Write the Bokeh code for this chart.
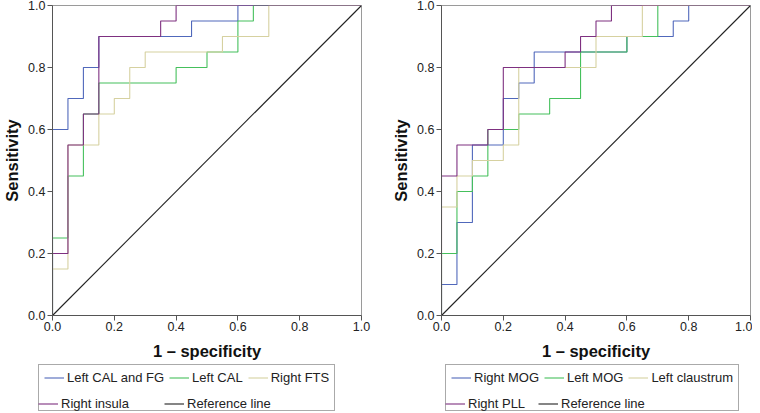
from bokeh.plotting import figure
from bokeh.layouts import row, column
from bokeh.models import Range1d, FixedTicker, PrintfTickFormatter, Legend, LegendItem
from bokeh.embed import file_html
from bokeh.resources import INLINE

# ---------------- data ----------------
tick_values = [0.0, 0.2, 0.4, 0.6, 0.8, 1.0]
x_label = "1 \u2013 specificity"
y_label = "Sensitivity"
ref_name = "Reference line"
ref_fpr = [0.0, 1.0]
ref_tpr = [0.0, 1.0]

# Left panel ROC coordinates (1 - specificity, sensitivity)
left_names = ["Left CAL and FG", "Left CAL", "Right FTS", "Right insula"]
left_cal_fg_fpr = [0, 0, 0.05, 0.05, 0.10, 0.10, 0.15, 0.15, 0.45, 0.45, 0.60, 0.60, 1.0]
left_cal_fg_tpr = [0, 0.60, 0.60, 0.70, 0.70, 0.80, 0.80, 0.90, 0.90, 0.95, 0.95, 1.0, 1.0]
left_cal_fpr = [0, 0, 0.05, 0.05, 0.10, 0.10, 0.15, 0.15, 0.40, 0.40, 0.50, 0.50, 0.60, 0.60, 0.65, 0.65, 1.0]
left_cal_tpr = [0, 0.25, 0.25, 0.45, 0.45, 0.65, 0.65, 0.75, 0.75, 0.80, 0.80, 0.85, 0.85, 0.95, 0.95, 1.0, 1.0]
right_fts_fpr = [0, 0, 0.05, 0.05, 0.15, 0.15, 0.20, 0.20, 0.25, 0.25, 0.30, 0.30, 0.55, 0.55, 0.70, 0.70, 1.0]
right_fts_tpr = [0, 0.15, 0.15, 0.55, 0.55, 0.65, 0.65, 0.70, 0.70, 0.80, 0.80, 0.85, 0.85, 0.90, 0.90, 1.0, 1.0]
right_insula_fpr = [0, 0, 0.05, 0.05, 0.10, 0.10, 0.15, 0.15, 0.35, 0.35, 0.40, 0.40, 1.0]
right_insula_tpr = [0, 0.20, 0.20, 0.55, 0.55, 0.65, 0.65, 0.90, 0.90, 0.95, 0.95, 1.0, 1.0]

# Right panel ROC coordinates
right_names = ["Right MOG", "Left MOG", "Left claustrum", "Right PLL"]
right_mog_fpr = [0, 0, 0.05, 0.05, 0.10, 0.10, 0.20, 0.20, 0.25, 0.25, 0.30, 0.30, 0.60, 0.60, 0.75, 0.75, 0.80, 0.80, 1.0]
right_mog_tpr = [0, 0.10, 0.10, 0.30, 0.30, 0.55, 0.55, 0.70, 0.70, 0.75, 0.75, 0.85, 0.85, 0.90, 0.90, 0.95, 0.95, 1.0, 1.0]
left_mog_fpr = [0, 0, 0.05, 0.05, 0.10, 0.10, 0.15, 0.15, 0.25, 0.25, 0.35, 0.35, 0.45, 0.45, 0.60, 0.60, 0.70, 0.70, 1.0]
left_mog_tpr = [0, 0.20, 0.20, 0.40, 0.40, 0.45, 0.45, 0.60, 0.60, 0.65, 0.65, 0.70, 0.70, 0.85, 0.85, 0.90, 0.90, 1.0, 1.0]
left_claustrum_fpr = [0, 0, 0.05, 0.05, 0.10, 0.10, 0.20, 0.20, 0.25, 0.25, 0.50, 0.50, 0.65, 0.65, 1.0]
left_claustrum_tpr = [0, 0.35, 0.35, 0.45, 0.45, 0.50, 0.50, 0.55, 0.55, 0.80, 0.80, 0.90, 0.90, 1.0, 1.0]
right_pll_fpr = [0, 0, 0.05, 0.05, 0.15, 0.15, 0.20, 0.20, 0.40, 0.40, 0.45, 0.45, 0.50, 0.50, 0.55, 0.55, 1.0]
right_pll_tpr = [0, 0.45, 0.45, 0.55, 0.55, 0.60, 0.60, 0.80, 0.80, 0.85, 0.85, 0.90, 0.90, 0.95, 0.95, 1.0, 1.0]

series_colors = ["#5068bb", "#45c05c", "#d6d1a0", "#7e3080"]
ref_color = "#222222"

FONT = "Liberation Sans"
PLOT_H = 363
LEG_H = 50


def make_panel(xs, ys, width, border_left, border_right):
    p = figure(width=width, height=PLOT_H, output_backend="svg", toolbar_location=None,
               x_range=Range1d(0, 1), y_range=Range1d(0, 1),
               min_border_left=border_left, min_border_right=border_right,
               min_border_top=5, min_border_bottom=48)
    p.grid.visible = False
    p.background_fill_color = "white"
    p.border_fill_color = "white"
    p.outline_line_color = "#9a9a9a"
    p.outline_line_width = 1

    for ax in (p.xaxis[0], p.yaxis[0]):
        ax.ticker = FixedTicker(ticks=tick_values, minor_ticks=[])
        ax.formatter = PrintfTickFormatter(format="%.1f")
        ax.axis_line_color = "#555555"
        ax.major_tick_line_color = "#555555"
        ax.major_tick_out = 5
        ax.major_tick_in = 0
        ax.minor_tick_line_color = None
        ax.major_label_text_font = FONT
        ax.major_label_text_font_size = "12.5px"
        ax.major_label_text_color = "#222222"
        ax.axis_label_text_font = FONT
        ax.axis_label_text_font_style = "bold"
        ax.axis_label_text_color = "#111111"
        ax.axis_label_text_font_size = "16.5px"
    p.xaxis.axis_label = x_label
    p.yaxis.axis_label = y_label
    p.xaxis.major_label_standoff = 1
    p.yaxis.major_label_standoff = 2
    p.xaxis.axis_label_standoff = 8
    p.yaxis.axis_label_standoff = 4

    for x, y, c in zip(xs, ys, series_colors):
        p.line(x, y, line_color=c, line_width=1.1)
    p.line(ref_fpr, ref_tpr, line_color=ref_color, line_width=1.1)
    return p


def legend_style():
    return dict(label_text_font=FONT, label_text_font_size="13px",
                label_text_color="#222222", label_standoff=3,
                glyph_width=20, glyph_height=15, label_height=15,
                padding=5, spacing=5, margin=0)


def make_legend(names, xs, ys, width, legend_x, first_label_w):
    # legend-only canvas: the series are drawn outside its visible range,
    # so only the legend (key) of each series is seen here
    lf = figure(width=width, height=LEG_H, output_backend="svg", toolbar_location=None,
                x_range=Range1d(2, 3), y_range=Range1d(2, 3),
                x_axis_location=None, y_axis_location=None, min_border=0)
    lf.grid.visible = False
    lf.outline_line_color = None
    lf.background_fill_color = "white"
    lf.border_fill_color = "white"
    rs = [lf.line(x, y, line_color=c, line_width=1.1) for x, y, c in zip(xs, ys, series_colors)]
    rr = lf.line(ref_fpr, ref_tpr, line_color=ref_color, line_width=1.1)
    spacer = lf.line(ref_fpr, ref_tpr, line_alpha=0)

    # first row (with the box around both rows)
    top_items = [LegendItem(label=names[i], renderers=[rs[i]]) for i in range(3)]
    top_items.append(LegendItem(label=" ", renderers=[spacer]))
    top = Legend(items=top_items, orientation="horizontal", ncols=3,
                 location=(legend_x, 2),
                 border_line_color="#555555", border_line_width=1,
                 background_fill_color="white", **legend_style())
    lf.add_layout(top, "center")

    # second row, aligned on the same columns
    bottom = Legend(items=[LegendItem(label=names[3], renderers=[rs[3]]),
                           LegendItem(label=ref_name, renderers=[rr])],
                    orientation="horizontal", ncols=2,
                    location=(legend_x, 2), label_width=first_label_w,
                    border_line_color=None, background_fill_alpha=0,
                    **legend_style())
    lf.add_layout(bottom, "center")
    return lf


left_xs = [left_cal_fg_fpr, left_cal_fpr, right_fts_fpr, right_insula_fpr]
left_ys = [left_cal_fg_tpr, left_cal_tpr, right_fts_tpr, right_insula_tpr]
right_xs = [right_mog_fpr, left_mog_fpr, left_claustrum_fpr, right_pll_fpr]
right_ys = [right_mog_tpr, left_mog_tpr, left_claustrum_tpr, right_pll_tpr]

p1 = make_panel(left_xs, left_ys, width=387, border_left=43, border_right=26)
p2 = make_panel(right_xs, right_ys, width=365, border_left=54, border_right=2)
l1 = make_legend(left_names, left_xs, left_ys, 387, 38, 98)
l2 = make_legend(right_names, right_xs, right_ys, 365, 58, 65)

layout = column(row(p1, p2), row(l1, l2))
open("out.html", "w").write(file_html(layout, INLINE))
